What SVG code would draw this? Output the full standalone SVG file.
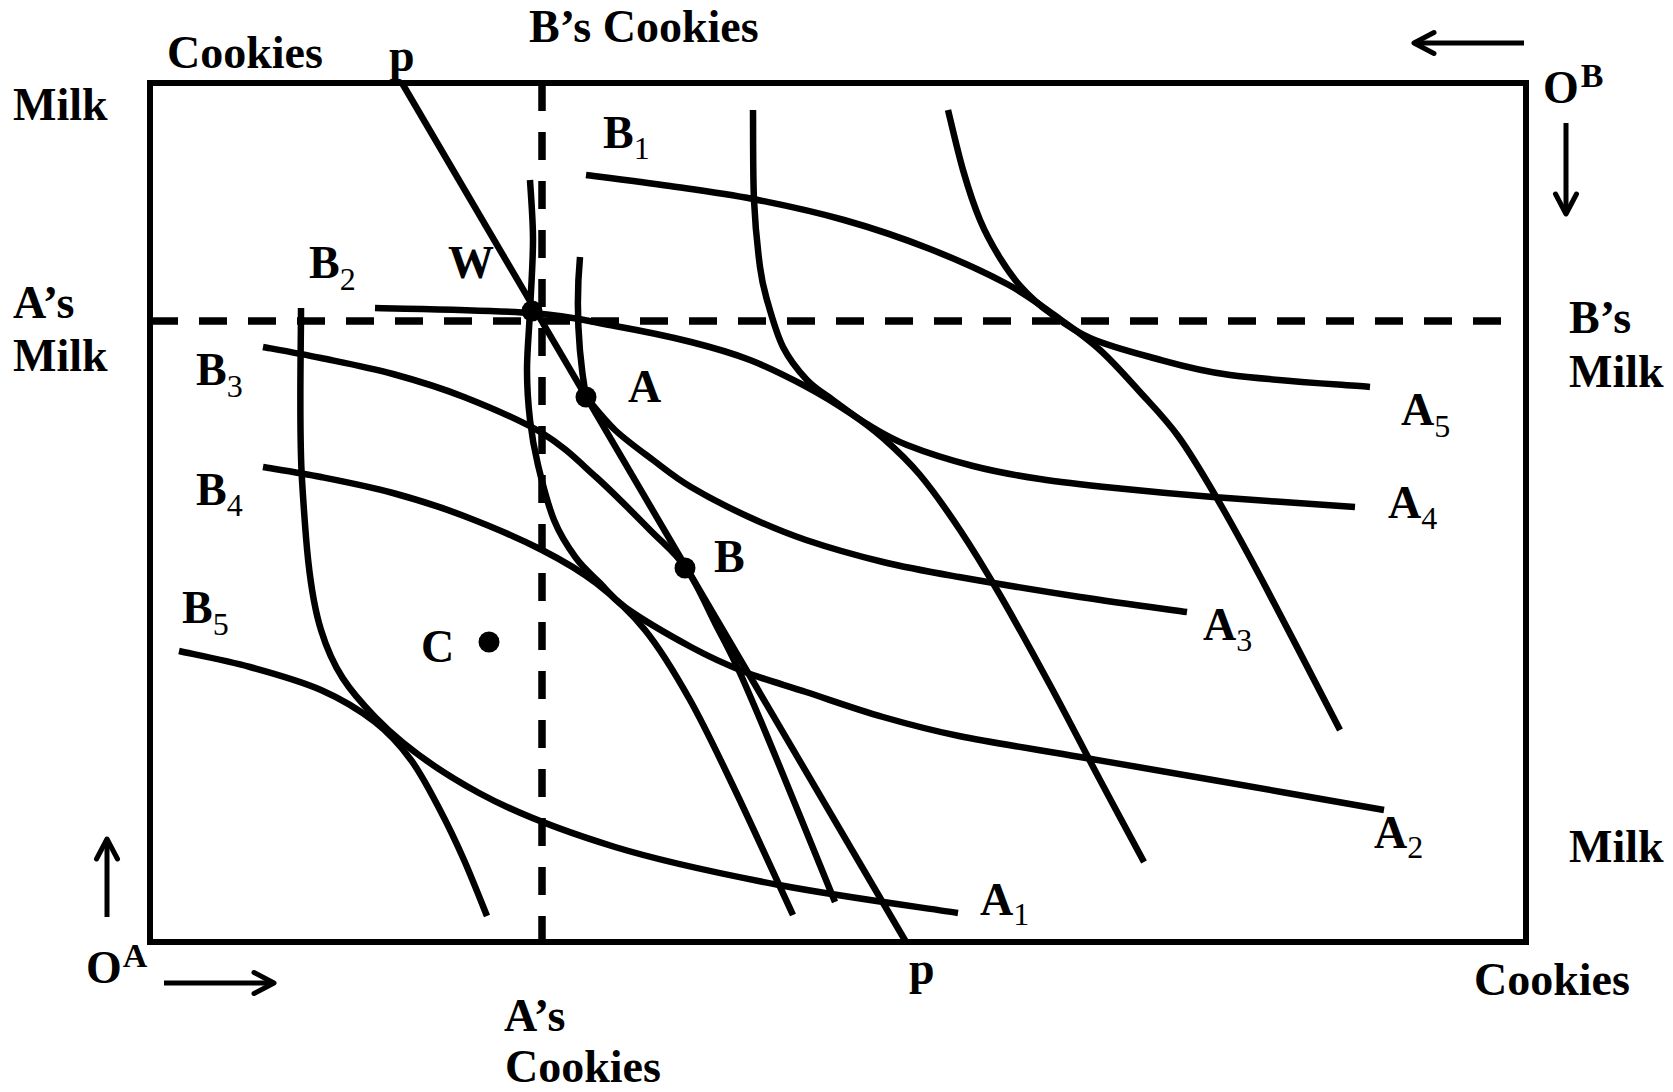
<svg xmlns="http://www.w3.org/2000/svg" width="1673" height="1092" viewBox="0 0 1673 1092">
<defs>
<style>
.box{fill:none;stroke:#000;stroke-width:6}
.dash{fill:none;stroke:#000;stroke-width:7.5;stroke-dasharray:28 21}
.curve{fill:none;stroke:#000;stroke-width:6.5}
.dot{fill:#000}
.lbl{font-family:"Liberation Serif","Times New Roman",serif;font-weight:bold;font-size:46px;fill:#000}
.sub{font-size:32px;font-weight:normal}
.sup{font-size:34px}
.arrow{fill:none;stroke:#000;stroke-width:5;marker-end:url(#head)}
</style>
<marker id="head" markerUnits="userSpaceOnUse" viewBox="-24 -14 28 28" markerWidth="28" markerHeight="28" refX="0" refY="0" orient="auto" overflow="visible">
<path d="M-20,-10.5 L0,0 L-20,10.5" fill="none" stroke="#000" stroke-width="5" stroke-linecap="round" stroke-linejoin="round"/>
</marker>
</defs>
<rect width="1673" height="1092" fill="#fff"/>

<g id="edgeworth-box">
<rect class="box" x="150" y="83" width="1376" height="859"/>
</g>

<g id="endowment-lines">
<line class="dash" x1="150" y1="321" x2="1501" y2="321"/>
<line class="dash" x1="542" y1="83" x2="542" y2="942"/>
</g>

<g id="price-line">
<line class="curve" x1="402" y1="83" x2="906" y2="942"/>
</g>

<g id="A-curves">
<path id="A1" class="curve" d="M301,308 C301.2,336.7 298.7,426.3 302,480 C305.3,533.7 308.8,590.5 321,630 C333.2,669.5 348.7,689.8 375,717 C401.3,744.2 439,771.3 479,793 C519,814.7 565,831.7 615,847 C665,862.3 721.8,874 779,885 C836.2,896 928.2,908.3 958,913"/>
<path id="A2" class="curve" d="M530,180 C530.5,190 533,218.2 533,240 C533,261.8 531,289.3 530,311 C529,332.7 527,351.8 527,370 C527,388.2 528.2,404.2 530,420 C531.8,435.8 534,448.3 538,465 C542,481.7 547.7,504.5 554,520 C560.3,535.5 568.3,547.5 576,558 C583.7,568.5 591.7,574.7 600,583 C608.3,591.3 610.8,597.3 626,608 C641.2,618.7 671.2,636.3 691,647 C710.8,657.7 725.8,664.5 745,672 C764.2,679.5 783,684.5 806,692 C829,699.5 857.5,709.7 883,717 C908.5,724.3 926.2,729.3 959,736 C991.8,742.7 1037.7,749.7 1080,757 C1122.3,764.3 1162.3,771.2 1213,780 C1263.7,788.8 1355.5,805 1384,810"/>
<path id="A3" class="curve" d="M580,257 C576,300 578,350 586,397 C590.8,402.5 603.8,419.5 615,430 C626.2,440.5 640.3,450.5 653,460 C665.7,469.5 675,477.5 691,487 C707,496.5 729.8,508.2 749,517 C768.2,525.8 783.7,532.5 806,540 C828.3,547.5 857.5,555.8 883,562 C908.5,568.2 926.2,571.2 959,577 C991.8,582.8 1042,591.2 1080,597 C1118,602.8 1169.2,609.5 1187,612"/>
<path id="A4" class="curve" d="M753,110 C753.2,125 752.8,173.8 754,200 C755.2,226.2 757.8,250.3 760,267 C762.2,283.7 763.2,286.7 767,300 C770.8,313.3 776.3,333.7 783,347 C789.7,360.3 798.7,371.2 807,380 C815.3,388.8 823,392.7 833,400 C843,407.3 854.7,416.5 867,424 C879.3,431.5 889.3,438 907,445 C924.7,452 950.8,460.3 973,466 C995.2,471.7 1015.5,475.3 1040,479 C1064.5,482.8 1091.2,485.5 1120,488.5 C1148.8,491.5 1173.8,493.9 1213,497 C1252.2,500.1 1331.3,505.3 1355,507"/>
<path id="A5" class="curve" d="M948,110 C950.5,120 957.7,151.7 963,170 C968.3,188.3 973.8,205.3 980,220 C986.2,234.7 993,246.7 1000,258 C1007,269.3 1013.7,278.8 1022,288 C1030.3,297.2 1038.7,304.7 1050,313 C1061.3,321.3 1073.3,330.7 1090,338 C1106.7,345.3 1126.7,350.8 1150,357 C1173.3,363.2 1193.3,370 1230,375 C1266.7,380 1346.7,385 1370,387"/>
</g>

<g id="B-curves">
<path id="B1" class="curve" d="M586,175 C600,176.8 642.2,182 670,186 C697.8,190 724,193.3 753,199 C782,204.7 814.5,211.7 844,220 C873.5,228.3 902.8,238.3 930,249 C957.2,259.7 985.8,272.7 1007,284 C1028.2,295.3 1041.5,306 1057,317 C1072.5,328 1086.2,337.5 1100,350 C1113.8,362.5 1127,377.7 1140,392 C1153,406.3 1165.5,418.8 1178,436 C1190.5,453.2 1201,471 1215,495 C1229,519 1241.2,540.8 1262,580 C1282.8,619.2 1327,705 1340,730"/>
<path id="B2" class="curve" d="M375,308 C401.2,308.8 492,310 532,313 C572,316 588.5,321.2 615,326 C641.5,330.8 668.5,336.3 691,342 C713.5,347.7 730.7,352.5 750,360 C769.3,367.5 790.3,378.2 807,387 C823.7,395.8 837.3,404.5 850,413 C862.7,421.5 871.3,427.7 883,438 C894.7,448.3 907.2,459.7 920,475 C932.8,490.3 946.7,510 960,530 C973.3,550 985,569.2 1000,595 C1015,620.8 1033.3,654.2 1050,685 C1066.7,715.8 1084.3,750.5 1100,780 C1115.7,809.5 1136.7,848.3 1144,862"/>
<path id="B3" class="curve" d="M263,347 C272.7,348.8 299.3,353.5 321,358 C342.7,362.5 369.2,367.5 393,374 C416.8,380.5 439.2,387.2 464,397 C488.8,406.8 520,419.7 542,433 C564,446.3 578,460.8 596,477 C614,493.2 635,514.8 650,530 C665,545.2 675,552.2 686,568 C697,583.8 707,607.5 716,625 C725,642.5 729.8,650.5 740,673 C750.2,695.5 761.2,721.8 777,760 C792.8,798.2 825.3,878.3 835,902"/>
<path id="B4" class="curve" d="M263,467 C272.7,468.7 299.3,472.7 321,477 C342.7,481.3 369.2,486.5 393,493 C416.8,499.5 439.2,506.5 464,516 C488.8,525.5 520,538.8 542,550 C564,561.2 578.8,569.7 596,583 C613.2,596.3 629.3,610.5 645,630 C660.7,649.5 675,673.3 690,700 C705,726.7 717.8,754.2 735,790 C752.2,825.8 783.3,894.2 793,915"/>
<path id="B5" class="curve" d="M179,651 C190.8,653.7 226.3,660.5 250,667 C273.7,673.5 300.2,680.8 321,690 C341.8,699.2 360,710.3 375,722 C390,733.7 400.2,745.3 411,760 C421.8,774.7 431.2,793.3 440,810 C448.8,826.7 456.2,842.3 464,860 C471.8,877.7 483.2,906.7 487,916"/>
</g>

<g id="points">
<circle id="W" class="dot" cx="532" cy="311" r="10.5"/>
<circle id="A" class="dot" cx="586" cy="397" r="10.5"/>
<circle id="B" class="dot" cx="685" cy="568" r="10.5"/>
<circle id="C" class="dot" cx="489" cy="642" r="10.5"/>
</g>

<g id="arrows">
<line class="arrow" x1="1524" y1="43" x2="1414" y2="43"/>
<line class="arrow" x1="1566" y1="123" x2="1566" y2="214"/>
<line class="arrow" x1="107" y1="917" x2="107" y2="839"/>
<line class="arrow" x1="164" y1="983" x2="274" y2="983"/>
</g>

<g id="labels" class="lbl">
<text x="167" y="68">Cookies</text>
<text x="389" y="71">p</text>
<text x="529" y="42">B’s Cookies</text>
<text x="13" y="120">Milk</text>
<text x="1543" y="103">O<tspan class="sup" dx="2" dy="-16">B</tspan></text>
<text x="13" y="318">A’s</text>
<text x="13" y="371">Milk</text>
<text x="1569" y="333">B’s</text>
<text x="1569" y="387">Milk</text>
<text x="448" y="278">W</text>
<text x="603" y="148">B<tspan class="sub" dy="11">1</tspan></text>
<text x="309" y="278">B<tspan class="sub" dy="12">2</tspan></text>
<text x="196" y="385">B<tspan class="sub" dy="12">3</tspan></text>
<text x="196" y="505">B<tspan class="sub" dy="11">4</tspan></text>
<text x="182" y="623">B<tspan class="sub" dy="12">5</tspan></text>
<text x="421" y="662">C</text>
<text x="628" y="402">A</text>
<text x="714" y="572">B</text>
<text x="1401" y="425">A<tspan class="sub" dy="12">5</tspan></text>
<text x="1388" y="518">A<tspan class="sub" dy="11">4</tspan></text>
<text x="1203" y="640">A<tspan class="sub" dy="11">3</tspan></text>
<text x="1374" y="848">A<tspan class="sub" dy="10">2</tspan></text>
<text x="980" y="915">A<tspan class="sub" dy="10">1</tspan></text>
<text x="909" y="984">p</text>
<text x="504" y="1031">A’s</text>
<text x="505" y="1082">Cookies</text>
<text x="86" y="983">O<tspan class="sup" dx="1" dy="-16">A</tspan></text>
<text x="1474" y="995">Cookies</text>
<text x="1569" y="862">Milk</text>
</g>
</svg>
